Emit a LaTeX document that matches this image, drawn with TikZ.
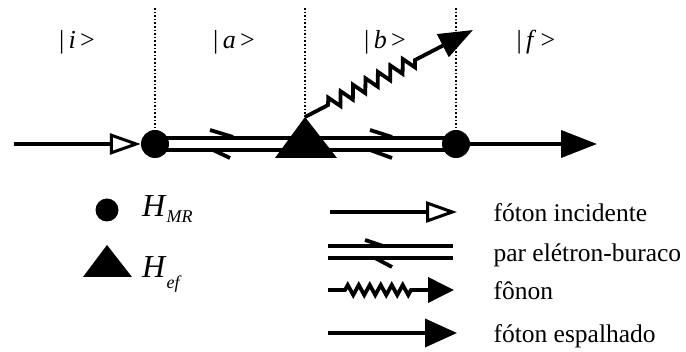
\documentclass[tikz,border=0pt]{standalone}
\usepackage{fontspec}
\setmainfont{Liberation Serif}
\usetikzlibrary{arrows.meta,calc,decorations.pathmorphing}

\begin{document}
\begin{tikzpicture}[x=1pt,y=-1pt,
line/.style={line width=3.8pt},
guide/.style={dotted,line width=1.6pt},
vertex/.style={circle,fill,inner sep=0pt,minimum size=28pt},
ket/.style={anchor=base,font=\fontsize{26}{28}\selectfont},
legend/.style={anchor=base west,font=\fontsize{25.5}{28}\selectfont},
incident/.style={line,-{Triangle[open,length=31pt,width=21pt,line width=3pt]}},
scattered/.style={line,-{Triangle[length=36pt,width=27pt]}},
phonon/.style={line,-{Triangle[length=34pt,width=25pt]},decorate,
  decoration={zigzag,segment length=14pt,amplitude=6.5pt,pre length=26pt,post length=62pt}}]
\useasboundingbox (0,0) rectangle (686,352);
% vertices on the main line
\coordinate (in) at (14,144);
\coordinate (out) at (597,144);
\coordinate (ef) at (305,144);
\coordinate (top) at (305,117);
\coordinate (ph) at (473,30);
\node[vertex] (mr1) at (155,144) {};
\node[vertex] (mr2) at (456,144) {};
% dotted time cuts
\draw[guide] (155,8) -- (mr1);
\draw[guide] (305,8) -- (top);
\draw[guide] (456,8) -- (mr2);
% states
\node[ket] (si) at (77,49) {|\,\textit{i}\,>};
\node[ket] (sa) at (234,49) {|\,\textit{a}\,>};
\node[ket] (sb) at (385,49) {|\,\textit{b}\,>};
\node[ket] (sf) at (536,49) {|\,\textit{f}\,>};
% photons
\draw[incident] (in) -- (mr1.west);
\draw[scattered] (mr2.center) -- (out);
% electron-hole pair
\draw[line] ($(mr1)+(0,-6)$) -- ($(mr2)+(0,-6)$);
\draw[line] ($(mr1)+(0,6)$) -- ($(mr2)+(0,6)$);
\draw[line] ($(mr1)+(55,-14)$) -- ++(23,7);
\draw[line] ($(mr1)+(58,6)$) -- ++(17,8);
\draw[line] ($(mr2)+(-86,-14)$) -- ++(22,7);
\draw[line] ($(mr2)+(-86,6)$) -- ++(22,8);
% phonon
\draw[phonon] (top) -- (ph);
\fill (top) -- ($(ef)+(32,14)$) -- ($(ef)+(-30,14)$) -- cycle;
% legend
\node[circle,fill,inner sep=0pt,minimum size=23pt] (dot) at (107,210) {};
\fill (107,245) -- (132,277) -- (83,277) -- cycle;
\node[anchor=base west,inner sep=0pt] (hmr) at (142,217)
  {\fontsize{32}{32}\selectfont\textit{H}\raisebox{-6pt}{\fontsize{18}{18}\selectfont\textit{MR}}};
\node[anchor=base west,inner sep=0pt] (hef) at (142,278)
  {\fontsize{32}{32}\selectfont\textit{H}\raisebox{-11pt}{\fontsize{18}{18}\selectfont\textit{ef}}};
\coordinate (l1a) at (330,212);
\coordinate (l1b) at (457,212);
\draw[incident] (l1a) -- (l1b);
\node[legend] (t1) at (490,222) {fóton incidente};
\coordinate (l2a) at (328,246);
\coordinate (l2b) at (453,246);
\draw[line] (l2a) -- (l2b);
\draw[line] ($(l2a)+(0,12)$) -- ($(l2b)+(0,12)$);
\draw[line] ($(l2a)+(37,-6)$) -- ++(18,6);
\draw[line] ($(l2a)+(47,12)$) -- ++(17,9);
\node[legend] (t2) at (490,262) {par elétron-buraco};
\coordinate (l3a) at (328,290);
\coordinate (l3b) at (454,290);
\draw[line,-{Triangle[length=26pt,width=25pt]},decorate,
  decoration={zigzag,segment length=11pt,amplitude=5pt,pre length=17pt,post length=42pt}] (l3a) -- (l3b);
\node[legend] (t3) at (490,300) {fônon};
\coordinate (l4a) at (328,333);
\coordinate (l4b) at (457,333);
\draw[line,-{Triangle[length=32pt,width=28pt]}] (l4a) -- (l4b);
\node[legend] (t4) at (490,343) {fóton espalhado};
\end{tikzpicture}
\end{document}
